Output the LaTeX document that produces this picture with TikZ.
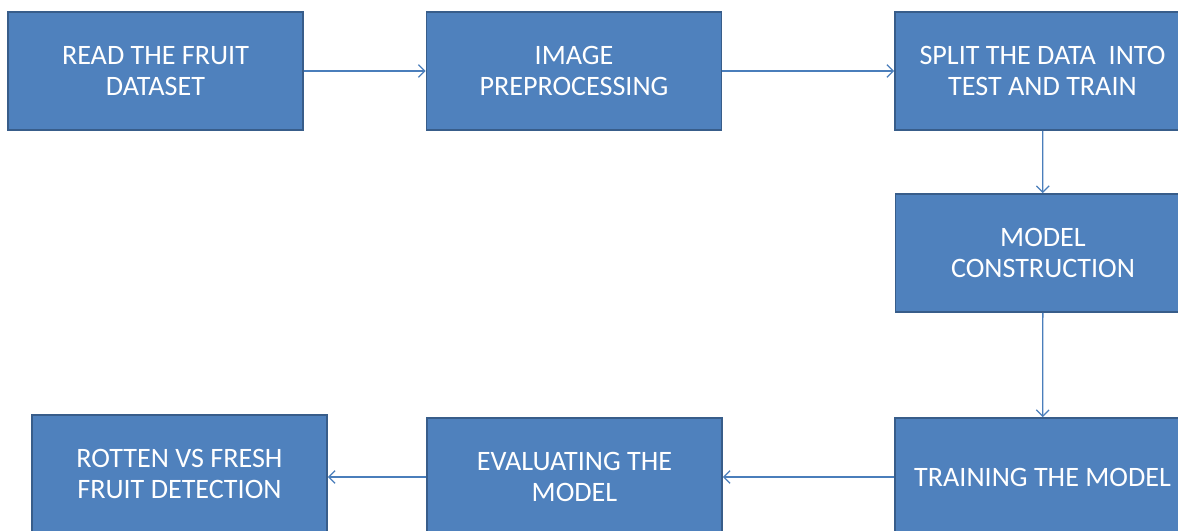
\documentclass[tikz,border=0pt]{standalone}
\usepackage{fontspec}
\setmainfont{Carlito}
\usepackage{tikz}
\usetikzlibrary{arrows.meta,positioning}
\definecolor{boxfill}{HTML}{4F81BD}
\definecolor{boxline}{HTML}{385D8A}
\definecolor{flowline}{HTML}{4A7EBB}

\begin{document}
\begin{tikzpicture}[x=0.025cm, y=-0.025cm,
    stepbox/.style={rectangle, draw=boxline, line width=1.2pt, fill=boxfill,
                    minimum width=7.375cm, minimum height=2.95cm,
                    text=white, align=center,
                    font=\fontsize{20pt}{22.5pt}\selectfont},
    flow/.style={draw=flowline, line width=0.9pt,
                 -{Straight Barb[length=4.5pt, width=9pt]}}]

    \clip (0,0) rectangle (1178,531);
    \fill[white] (0,0) rectangle (1178,531);

    % Top row
    \node[stepbox] (read) at (155.5, 71) {READ THE FRUIT\\DATASET};
    \node[stepbox] (prep) at (574, 71) {IMAGE\\PREPROCESSING};
    \node[stepbox] (split) at (1042.5, 71) {SPLIT THE DATA~ INTO\\TEST AND TRAIN};

    % Right column
    \node[stepbox] (build) at (1043, 253) {MODEL\\CONSTRUCTION};
    \node[stepbox] (train) at (1042.5, 477) {TRAINING THE MODEL};

    % Bottom row
    \node[stepbox] (eval) at (574.5, 477) {EVALUATING THE\\MODEL};
    \node[stepbox] (detect) at (179.5, 474) {ROTTEN VS FRESH\\FRUIT DETECTION};

    % Connections
    \draw[flow] (read) -- (prep);
    \draw[flow] (prep) -- (split);
    \draw[flow] (split) -- (build);
    \draw[flow] (build) -- (train);
    \draw[flow] (train) -- (eval);
    \draw[flow] (eval.west) -- (eval.west -| detect.east);
\end{tikzpicture}
\end{document}
